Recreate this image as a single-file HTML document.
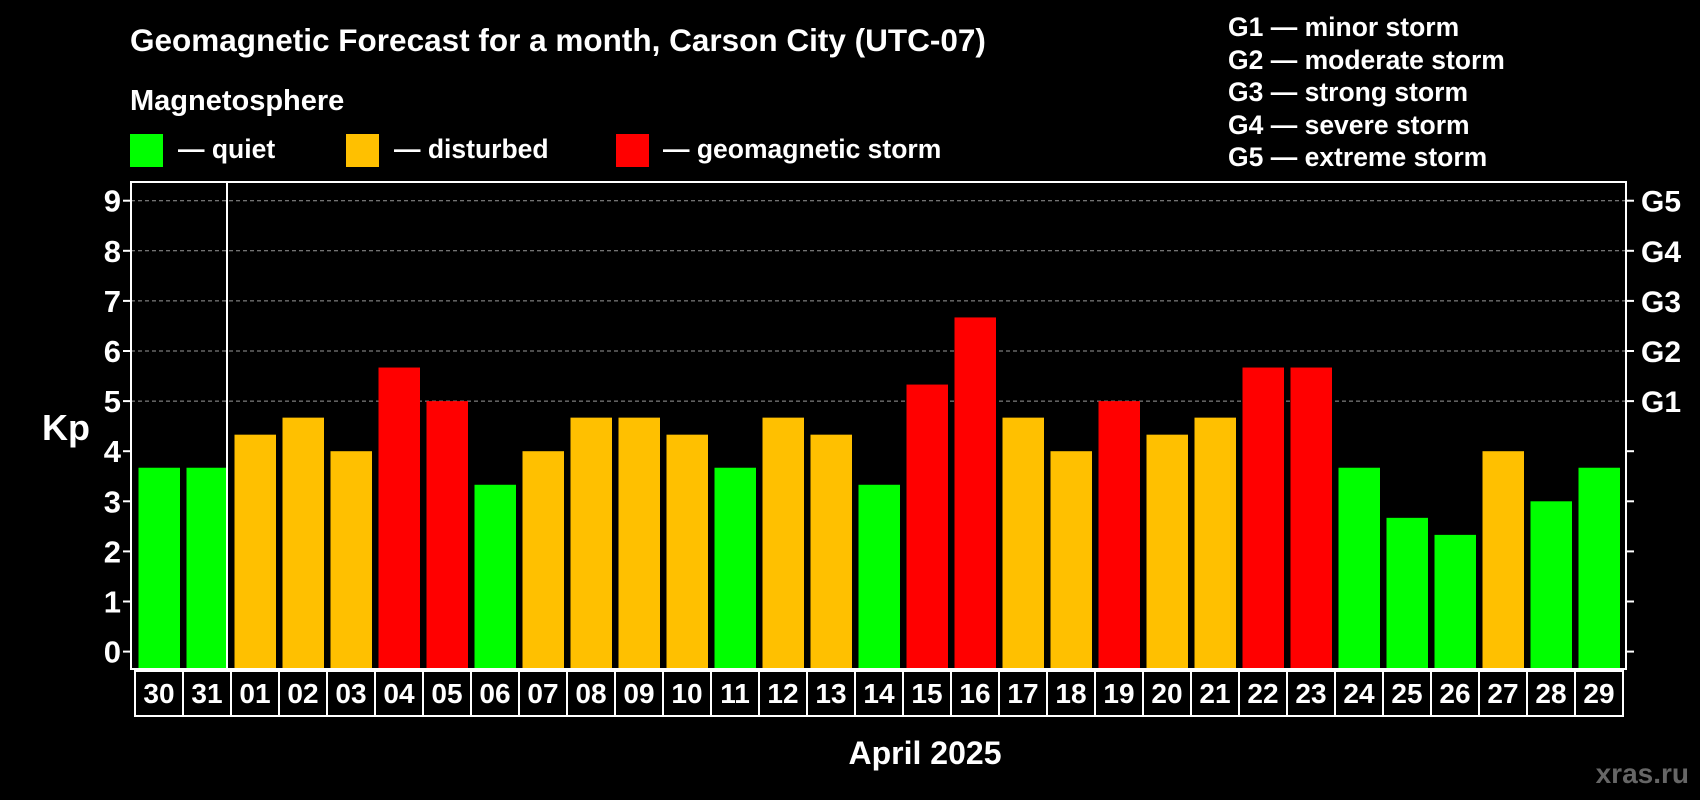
<!DOCTYPE html>
<html><head><meta charset="utf-8"><style>
html,body{margin:0;padding:0;background:#000;}
svg{display:block;font-family:"Liberation Sans",Arial,sans-serif;font-weight:bold;}
</style></head><body>
<svg id="chart" width="1700" height="800" viewBox="0 0 1700 800">
<text x="130" y="51" fill="#fff" font-size="31.5">Geomagnetic Forecast for a month, Carson City (UTC-07)</text>
<text x="130" y="110" fill="#fff" font-size="29">Magnetosphere</text>
<g><rect x="130" y="134" width="33" height="33" fill="#00ff00"/><text x="178" y="158" fill="#fff" font-size="26.5">— quiet</text></g>
<g><rect x="346" y="134" width="33" height="33" fill="#ffc000"/><text x="394" y="158" fill="#fff" font-size="26.5">— disturbed</text></g>
<g><rect x="616" y="134" width="33" height="33" fill="#ff0000"/><text x="663" y="158" fill="#fff" font-size="26.5">— geomagnetic storm</text></g>
<g fill="#fff" font-size="26.5">
<text x="1228" y="36">G1 — minor storm</text>
<text x="1228" y="69">G2 — moderate storm</text>
<text x="1228" y="101">G3 — strong storm</text>
<text x="1228" y="134">G4 — severe storm</text>
<text x="1228" y="166">G5 — extreme storm</text>
</g>
<text x="42" y="440" fill="#fff" font-size="36">Kp</text>
<text x="925" y="764" fill="#fff" font-size="32" text-anchor="middle">April 2025</text>
<text x="1689" y="783" fill="#666" font-size="28" text-anchor="end">xras.ru</text>
<g id="plot"></g>
</svg>
<script>
const days=["30","31","01","02","03","04","05","06","07","08","09","10","11","12","13","14","15","16","17","18","19","20","21","22","23","24","25","26","27","28","29"];
const kp=[3.67,3.67,4.33,4.67,4,5.67,5,3.33,4,4.67,4.67,4.33,3.67,4.67,4.33,3.33,5.33,6.67,4.67,4,5,4.33,4.67,5.67,5.67,3.67,2.67,2.33,4,3,3.67];
const yTicks=[0,1,2,3,4,5,6,7,8,9];
const gLabels=["G1","G2","G3","G4","G5"];
const NS="http://www.w3.org/2000/svg";
const g=document.getElementById('plot');
const L=131,R=1626,T=182,B=669,X0=135,P=48;
const y=v=>651.6-v*50.1;
const x=i=>X0+i*P;
function mk(t,a){const e=document.createElementNS(NS,t);for(const k in a)e.setAttribute(k,a[k]);g.appendChild(e);return e;}
yTicks.forEach(v=>{
 if(v>=5){const l=mk('line',{x1:L,x2:R,y1:y(v),y2:y(v),stroke:'#999','stroke-width':1,'stroke-dasharray':'4,3'});
 
 }
 const t1=mk('line',{x1:L-8,x2:L,y1:y(v),y2:y(v),stroke:'#fff','stroke-width':2});
 
 
 const t2=mk('line',{x1:R,x2:R+8,y1:y(v),y2:y(v),stroke:'#fff','stroke-width':2});
 
 
 const tl=mk('text',{x:121,y:y(v)+11,fill:'#fff','font-size':31,'text-anchor':'end'});tl.textContent=v;
 
 
 if(v>=5){const gl=mk('text',{x:1641,y:y(v)+11,fill:'#fff','font-size':30});gl.textContent=gLabels[v-5];
 
 }
});
kp.forEach((v,i)=>{
 const c=v>=5?'#ff0000':(v>=4?'#ffc000':'#00ff00');
 const b=mk('rect',{x:x(i)+3.5,y:y(v),width:41.5,height:B-y(v),fill:c});
 
 
 const cell=mk('rect',{x:x(i),y:671,width:P,height:45,fill:'none',stroke:'#fff','stroke-width':2});
 
 
 const t=mk('text',{x:x(i)+P/2,y:703,fill:'#fff','font-size':28,'text-anchor':'middle'});t.textContent=days[i];
 
 
});
const f=mk('rect',{x:L,y:T,width:R-L,height:B-T,fill:'none',stroke:'#fff','stroke-width':2});


const d=mk('line',{x1:x(2)-4,x2:x(2)-4,y1:T,y2:B,stroke:'#fff','stroke-width':2});


</script>
</body></html>
